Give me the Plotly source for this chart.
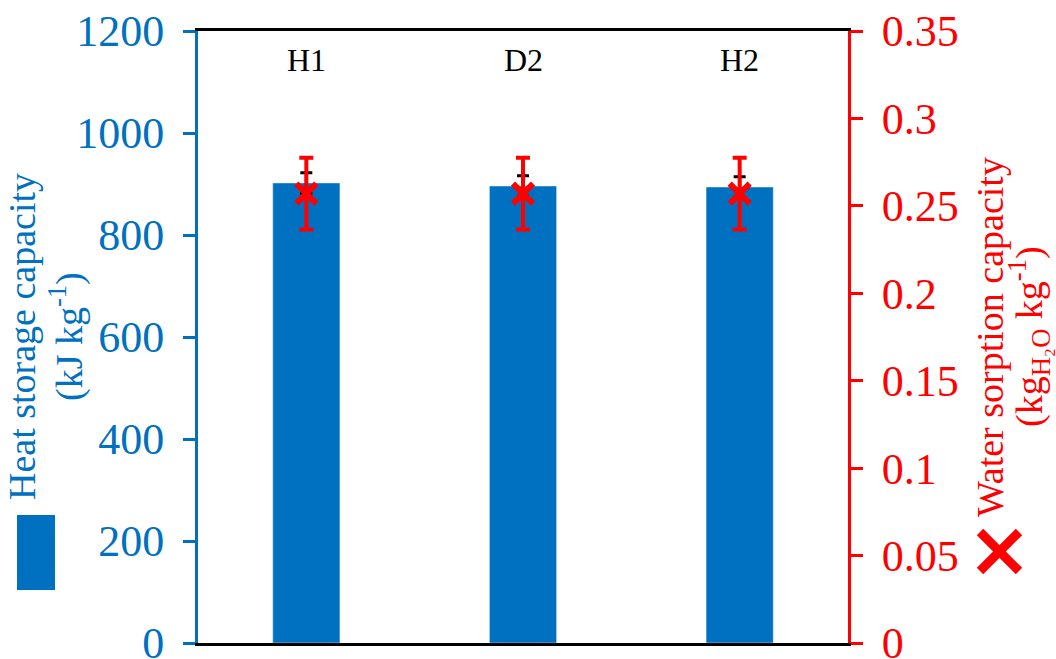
import plotly.graph_objects as go

# Samples and measured values
samples = ["H1", "D2", "H2"]
heat_capacity = [902, 896, 894]          # kJ kg-1
heat_err = [20, 20, 20]
water_capacity = [0.257, 0.257, 0.257]   # kg_H2O kg-1
water_err = [0.0205, 0.0205, 0.0205]

BLUE = "#0070C0"
RED = "#FF0000"
FONT = "Liberation Serif"

# plot-area pixel geometry, used for placing side glyphs in paper coords
L, R, T, B = 198, 208, 31, 16
W, H = 1056, 659
PW, PH = W - L - R, H - T - B


def px(x):
    return (x - L) / PW


def py(y):
    return (H - B - y) / PH


fig = go.Figure()

fig.add_trace(go.Bar(
    x=samples, y=heat_capacity, marker_color=BLUE, width=0.31,
    error_y=dict(type="data", array=heat_err, color="black", thickness=3, width=6),
    yaxis="y", showlegend=False,
))

fig.add_trace(go.Scatter(
    x=samples, y=water_capacity, mode="markers", yaxis="y2",
    marker=dict(symbol="x-thin", size=20, line=dict(color=RED, width=6), color=RED),
    error_y=dict(type="data", array=water_err, color=RED, thickness=4, width=7),
    showlegend=False,
))

annotations = []
for s in samples:
    annotations.append(dict(x=s, y=1143, xref="x", yref="y", text=s, showarrow=False,
                            font=dict(family=FONT, size=32, color="black")))

# axis titles, each line placed on its own
title_font = dict(family=FONT, size=38)
for xpos, text, color in [
    (22, "Heat storage capacity", BLUE),
    (66, "(kJ kg<sup>-1</sup>)", BLUE),
    (990, "Water sorption capacity", RED),
    (1029, "(kg<sub>H₂O</sub> kg<sup>-1</sup>)", RED),
]:
    annotations.append(dict(x=px(xpos), y=0.5, xref="paper", yref="paper", text=text,
                            textangle=-90, showarrow=False, xanchor="center", yanchor="middle",
                            font=dict(title_font, color=color)))

shapes = [
    # bar key
    dict(type="rect", xref="paper", yref="paper", x0=px(17), x1=px(55), y0=py(590), y1=py(515),
         fillcolor=BLUE, line=dict(width=0)),
    # cross key
    dict(type="line", xref="paper", yref="paper", x0=px(980), y0=py(532), x1=px(1019), y1=py(571),
         line=dict(color=RED, width=9)),
    dict(type="line", xref="paper", yref="paper", x0=px(980), y0=py(571), x1=px(1019), y1=py(532),
         line=dict(color=RED, width=9)),
]

left_ticks = [0, 200, 400, 600, 800, 1000, 1200]
right_ticks = [0, 0.05, 0.1, 0.15, 0.2, 0.25, 0.3, 0.35]

fig.update_layout(
    width=W, height=H,
    margin=dict(l=L, r=R, t=T, b=B, autoexpand=False),
    paper_bgcolor="white", plot_bgcolor="white",
    bargap=0.69,
    xaxis=dict(showline=True, linecolor="black", linewidth=3, mirror=True,
               showticklabels=False, ticks="", showgrid=False, zeroline=False),
    yaxis=dict(range=[0, 1200], tickvals=left_ticks, ticktext=[str(v) for v in left_ticks],
               showline=True, linecolor=BLUE, linewidth=3, ticks="outside", ticklen=12,
               tickwidth=3, tickcolor=BLUE, showgrid=False, zeroline=False,
               tickfont=dict(family=FONT, size=44, color=BLUE), ticklabelstandoff=10,
               ticklabeloverflow="allow", automargin=False),
    yaxis2=dict(range=[0, 0.35], overlaying="y", side="right", tickvals=right_ticks,
                ticktext=[f"{v:g}" for v in right_ticks],
                showline=True, linecolor=RED, linewidth=3, ticks="outside", ticklen=12,
                tickwidth=3, tickcolor=RED, showgrid=False, zeroline=False,
                tickfont=dict(family=FONT, size=44, color=RED), ticklabelstandoff=10,
                ticklabeloverflow="allow", automargin=False),
    annotations=annotations,
    shapes=shapes,
)

fig.write_html("out.html")
